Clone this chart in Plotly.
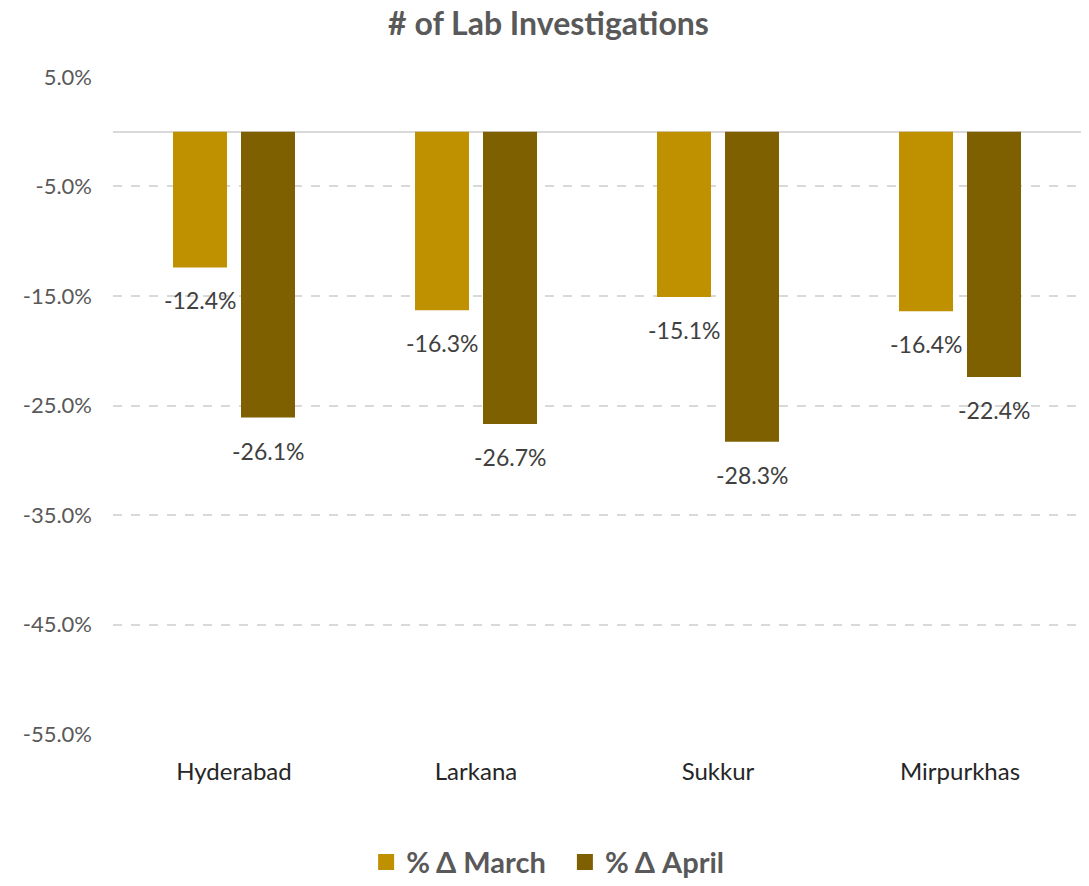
import plotly.graph_objects as go

# data
districts = ["Hyderabad", "Larkana", "Sukkur", "Mirpurkhas"]
march = [-12.4, -16.3, -15.1, -16.4]
april = [-26.1, -26.7, -28.3, -22.4]
tick_vals = [5, -5, -15, -25, -35, -45, -55]

FONT = "Lato, 'Open Sans', sans-serif"
GRAY = "#595959"
C_MAR, C_APR = "#BF9000", "#7F6000"

fig = go.Figure()
fig.add_trace(go.Bar(x=districts, y=march, name="% Δ March", marker_color=C_MAR,
                     marker_line_width=0, showlegend=False))
fig.add_trace(go.Bar(x=districts, y=april, name="% Δ April", marker_color=C_APR,
                     marker_line_width=0, showlegend=False))
# legend entries with bigger square swatches
for name, col in (("% Δ March&nbsp;&nbsp;", C_MAR), ("% Δ April", C_APR)):
    fig.add_trace(go.Scatter(x=[None], y=[None], mode="markers", name=f"<b>{name}</b>",
                             marker=dict(symbol="square", size=18, color=col)))

# value labels below the bar ends
for i, d in enumerate(districts):
    for vals, off in ((march, -0.14), (april, 0.14)):
        fig.add_annotation(x=i + off, y=vals[i], xref="x", yref="y",
                           text=f"{vals[i]:.1f}%", showarrow=False,
                           yanchor="top", yshift=-17,
                           font=dict(family=FONT, size=23, color="#404040"))

# page body has an 8px margin, so the figure is a bit smaller than the window
fig.update_layout(
    width=1081, height=878,
    paper_bgcolor="white", plot_bgcolor="white",
    margin=dict(l=105, r=8, t=68, b=151, autoexpand=False),
    title=dict(text="<b># of Lab Investigations</b>", x=0.5, xanchor="center",
               y=1, yanchor="top", pad=dict(t=5),
               font=dict(family=FONT, size=32, color=GRAY)),
    barmode="group", bargap=0.438, bargroupgap=0.206,
    legend=dict(orientation="h", x=0.449, xanchor="center", y=-0.193, yanchor="middle",
                font=dict(family=FONT, size=29, color=GRAY), itemwidth=30,
                traceorder="normal"),
    font=dict(family=FONT, color=GRAY),
)
fig.update_yaxes(range=[-55.08, 5.08], tickvals=tick_vals,
                 ticktext=[f"{v:.1f}%" for v in tick_vals],
                 showgrid=True, gridcolor="#D9D9D9", griddash="dash", gridwidth=1.5,
                 zeroline=True, zerolinecolor="#D9D9D9", zerolinewidth=2,
                 ticklabelstandoff=20, tickfont=dict(family=FONT, size=22, color=GRAY),
                 showline=False, automargin=False)
fig.update_xaxes(tickfont=dict(family=FONT, size=24, color="#262626"),
                 showline=False, ticklabelstandoff=20, automargin=False)

fig.write_html("out.html")
